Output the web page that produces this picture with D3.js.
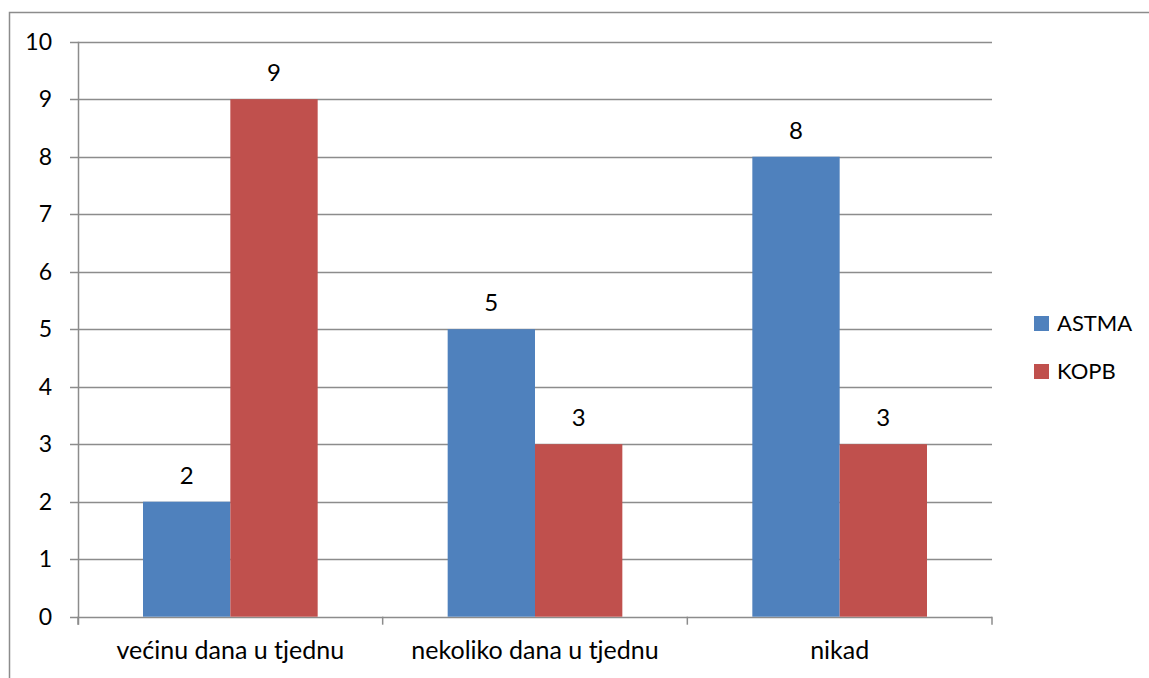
<!DOCTYPE html>
<html>
<head>
<meta charset="utf-8">
<script src="https://cdn.jsdelivr.net/npm/d3@7.9.0/dist/d3.min.js"></script>
<style>
  html, body { margin: 0; background: #fff; overflow: hidden; }
  svg { display: block; font-family: Lato, "Open Sans", sans-serif; }
</style>
</head>
<body>
<svg id="chart" width="1149" height="678"></svg>
<script>
const categories = ['većinu dana u tjednu', 'nekoliko dana u tjednu', 'nikad'];
const seriesNames = ['ASTMA', 'KOPB'];
const astma = [2, 5, 8];
const kopb = [9, 3, 3];
const yTicks = [0, 1, 2, 3, 4, 5, 6, 7, 8, 9, 10];
const colors = ['#4f81bd', '#c0504d'];

const svg = d3.select('#chart');
const plotLeft = 78, plotRight = 992, plotTop = 41.7, plotBottom = 616.7;

// outer chart frame: only top and left edges are on the page
svg.append('path')
  .attr('d', 'M9.5,678V12.5H1149')
  .attr('fill', 'none').attr('stroke', '#8c8c8c').attr('stroke-width', 1.5);

const y = d3.scaleLinear().domain([0, 10]).range([plotBottom, plotTop]);
const x0 = d3.scaleBand().domain(categories).range([plotLeft, plotRight]);
const x1 = d3.scaleBand().domain(seriesNames).range([65, x0.bandwidth() - 65]);

// gridlines
svg.append('g')
  .selectAll('line')
  .data(yTicks)
  .join('line')
  .attr('x1', plotLeft - 8).attr('x2', plotRight)
  .attr('y1', d => Math.round(y(d)) + 0.5).attr('y2', d => Math.round(y(d)) + 0.5)
  .attr('stroke', '#8c8c8c').attr('stroke-width', 1.5);

// y labels
svg.append('g')
  .selectAll('text')
  .data(yTicks)
  .join('text')
  .attr('x', 52).attr('y', d => y(d) + 8)
  .attr('text-anchor', 'end')
  .attr('font-size', 23)
  .attr('fill', '#000')
  .text(d => d);

const rows = categories.map((c, i) => ({ cat: c, values: [astma[i], kopb[i]] }));

const groups = svg.append('g')
  .selectAll('g')
  .data(rows)
  .join('g')
  .attr('transform', d => `translate(${x0(d.cat)},0)`);

groups.selectAll('rect')
  .data(d => d.values.map((v, j) => ({ name: seriesNames[j], value: v, j })))
  .join('rect')
  .attr('x', d => x1(d.name))
  .attr('width', x1.bandwidth())
  .attr('y', d => y(d.value))
  .attr('height', d => y(0) - y(d.value))
  .attr('fill', d => colors[d.j]);

groups.selectAll('text')
  .data(d => d.values.map((v, j) => ({ name: seriesNames[j], value: v })))
  .join('text')
  .attr('x', d => x1(d.name) + x1.bandwidth() / 2)
  .attr('y', d => y(d.value) - 18)
  .attr('text-anchor', 'middle')
  .attr('font-size', 24)
  .text(d => d.value);

// y axis line and x axis ticks
svg.append('line')
  .attr('x1', plotLeft + 0.5).attr('x2', plotLeft + 0.5)
  .attr('y1', plotTop).attr('y2', plotBottom + 8)
  .attr('stroke', '#8c8c8c').attr('stroke-width', 1.5);

svg.append('g')
  .selectAll('line')
  .data(categories.map(c => x0(c)).concat([plotRight]))
  .join('line')
  .attr('x1', d => d).attr('x2', d => d)
  .attr('y1', plotBottom).attr('y2', plotBottom + 8)
  .attr('stroke', '#8c8c8c').attr('stroke-width', 1.5);

svg.append('g')
  .selectAll('text')
  .data(categories)
  .join('text')
  .attr('x', d => x0(d) + x0.bandwidth() / 2)
  .attr('y', 659)
  .attr('text-anchor', 'middle')
  .attr('font-size', 25)
  .text(d => d);

// legend
const legend = svg.append('g')
  .selectAll('g')
  .data(seriesNames)
  .join('g')
  .attr('transform', (d, i) => `translate(1034,${316 + i * 48})`);

legend.append('rect')
  .attr('width', 15).attr('height', 15)
  .attr('fill', (d, i) => colors[i]);

legend.append('text')
  .attr('x', 23).attr('y', 15)
  .attr('font-size', 22)
  .text(d => d);
</script>
</body>
</html>
